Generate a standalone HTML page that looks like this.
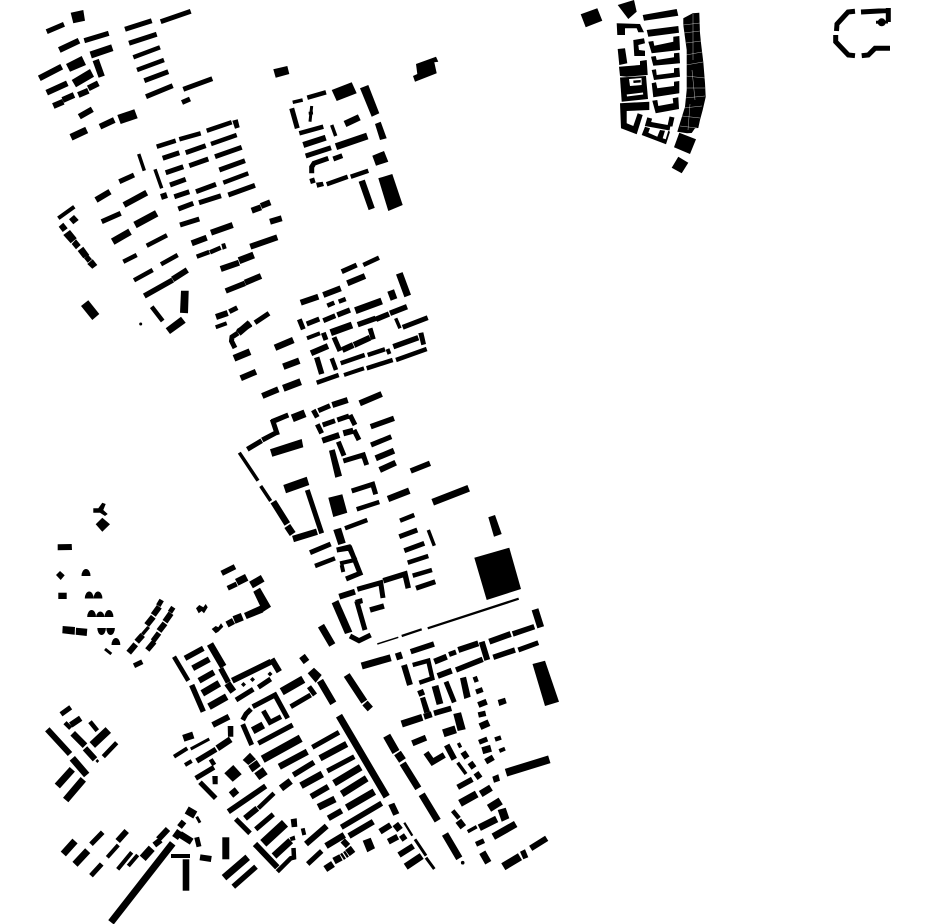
<!DOCTYPE html>
<html><head><meta charset="utf-8"><style>html,body{margin:0;padding:0;background:#fff}svg{display:block}</style></head>
<body>
<svg width="930" height="924" viewBox="0 0 930 924" xmlns="http://www.w3.org/2000/svg">
<rect width="930" height="924" fill="#fff"/>
<g fill="none" stroke="#000" stroke-linejoin="miter">
<path stroke-width="1.5" d="M377.3 644L398.3 637.3"/>
<path stroke-width="2.3" d="M427.7 628.3L518.7 598.7M401.7 636L421.7 629.3M404.3 822.7L412.3 835.7"/>
<path stroke-width="3" d="M190.7 749L209.3 739M105 649L111.3 654M415 839.3L426 855.7M426 857.7L434.3 869M196.7 816.7L200 822.7M311.7 106L310 121.7M308.7 113.3L313 113M876 22.3L888 22"/>
<path stroke-width="3.5" d="M138.7 154L144.3 170.7M155 169.3L161.7 188.3M331.7 125L335.7 136M292.7 102.3L302.7 100M395.7 318.3L400 328.3M239.3 452.7L258 480.7M260.7 486L270.7 501M428.3 530L434.3 545.7M457.7 762.7L466 774M467.7 831.7L476.7 826.7"/>
<path stroke-width="4" d="M58.3 218.3L74.3 206.7M215.7 327.3L226.7 323.3M307 338.3L320 333.3M344 375L364 368.3M340 563.3L355 560M341.7 565L343.3 572M174 756.7L187.3 748.3M185 765L191.7 761M302.7 828.3L304.3 835M107.3 857.3L118.3 845M117.7 869.3L131.7 852.3M128.3 866L137.7 855M171 856L190 856M499.3 751L505 748.7M387.5 349L389.5 354"/>
<path stroke-width="4.5" d="M156.7 146.7L175.7 140.7M179.3 139.3L200.7 133.3M206.7 130.7L231.7 122.3M211 144L236.7 135M133.3 57.3L160 47.3M137 70L164 60M223.3 182.7L248.3 173.3M146.7 245.7L167 235.3M196.7 256.7L209.3 252M210 252.3L220.7 247.7M123.3 261.7L136.7 255M161 264.3L177.7 255M134 280.3L152.7 270M151.7 306.7L162.7 321M363.3 265L379 257.7M327.3 305.7L334.3 302.7M338.7 301.7L345.7 299M340.7 363.3L364.7 355M367.7 355L385 349.3M366.7 368.3L392.7 360M316.7 382.7L338.7 375M331.7 358.3L336 370M396 360L426.7 349M299.3 133.3L323.3 126.7M307.3 97.7L326 92.3M326.7 184.3L347.7 176.7M350.7 176.7L368.3 170.7M356.7 509.3L379.3 502M345 528.3L367.3 520M400 520.7L414.3 515M407.7 562.7L428.3 556M412.7 575.7L432 570M315 566L335 558.3M412.7 665L428.3 660.7L432.3 678.3L419.3 682.7M174 656.7L188.3 680.7M474.7 676.7L476.7 682M495 739.5L501 737.5M452.7 810.7L459 818.3M210.7 759.3L214.3 765M258.3 808.3L274 793.3M277.3 871.7L290.7 858.3L294 857.5L293.5 848M65 722.7L70.7 728.3M90 721.7L97.3 730.7M103.3 756.7L116.7 742.7"/>
<path stroke-width="5" d="M46.7 31.7L64 24.3M84.3 40.7L108.7 33.3M125 29.3L151.7 20.7M160.7 21.7L190.7 11.3M129 43.3L156.7 34.3M144.3 80.7L168.3 71.7M146 96.7L172.7 85.7M183.3 89.3L212.3 78.7M182 102.5L190 99M162.7 158.3L179.3 152.7M185.7 152.7L205.7 145.7M215 156.7L241.7 147.3M189.3 165.7L208.3 159M165.7 172.7L183.3 166.7M219.3 170L245 160.7M170 185L185.7 179.3M196 191.7L216 184.3M228.3 195L255 185.3M174.3 196.7L189.3 191.7M178.3 209L193.3 203.3M199 202.7L221 195.7M101.7 221.7L120.7 213.3M180 225L199.3 219M119.3 181.7L134 175M229.3 311.7L237.3 307.7M255 322.7L269 313.3M341.7 271.7L356.7 265M299.3 319.3L303.3 329.3M306.7 324L319.3 319M323.3 320.7L335.3 315.7M402.7 327.3L427.7 317.7M323.3 332.7L326 340M334 337.3L340 351M370 328.3L373.3 339.3M238 333L232 337L231.5 341L235 348M291.7 108.3L297.3 128.3M305.7 156L331 147.7M333.3 159L342.3 155.7M328.3 158.3L314 163.3L311.7 167L311.7 173.3M311.7 178.3L313.3 183.3M313.3 410L317.3 417.3M318.3 410.7L330 405.7M271.7 421.7L288.3 415M288.3 415L273 421.5L277.5 435M262.3 440L275 433.3M247.3 449.3L261.7 440.7M307.3 490L321.7 533.3M317.3 424.3L321.7 433.3M322.7 425L335 420.7M337.3 420L349 416M350 415L355 425M354 430L359 440M338.3 441.7L344 455.7M343.3 461L363.3 455L366.7 465M351.7 491L372.7 484.3L375.7 494.3M371 445L391.3 436.7M399.3 536.7L417.3 530M404.3 550.7L424.3 543.3M416 588.3L435.3 581.7M310 552.7L330.7 544M336.7 550L349 547L355 560M336.7 550L350 548L360 573.3L346 579M356.7 601L365 630M350 636L359 640.7L370.7 635M357.3 589.3L380.7 582.7L383 598M446 681.7L454.3 702.3M518.3 650L538.3 642.7M476 692L482.7 689.5M479 742.3L487.3 739M449 654.5L456 652M458 746L461 744.5M476 844.3L484 840.7M61 714.3L70.7 707.3M91 844.3L102.7 832.3M91 875.7L101.7 864M158.3 605.7L161.7 600M170 612.3L173.3 607.3M134 665.7L142.3 661.7M227.7 588.3L236.7 584M258.3 687.3L270.7 679M236 700L253.3 689.3M290.7 706.7L310.7 695M309 686.7L315 695M252.7 706.7L275 695L287.7 718.3M242.7 720L246 714L251 709M263.3 710.7L270 722.3L281 716.7M242.7 724.3L251.7 745M258.3 743.3L292.7 725M312.3 747.3L339 732.3M327.3 771L354.3 756.7M195.7 778.3L214 767.3M200 782.3L215.7 798.3M235.7 819L250 833.3M255.7 829.3L273.3 814.3M307.7 864L321.7 851M196.7 837.3L199 846.7M855 11.3L848 12L837 24L836.5 31M835.7 35L835.7 41.7L848.3 55L855 55.7M861 12L888 10.5M888.3 8L888.3 22M861.7 55.7L868.3 55L875 48.3L890 48.3M670 126L672 117M649.7 118L648 124L670 128"/>
<path stroke-width="5.5" d="M185 658.3L203.3 648.3M144.3 296L172.7 280M225.7 291L245 283.3M191.7 685L203.3 711.7M220.7 668.3L228.3 682.3M196.7 761L216 749.3M293.3 775L314 762.3M228.3 811.7L265.7 786M233.3 886.7L256 866.7M341.3 827.3L381.7 803.3M221.7 573.3L235 566.7M153 641L159 633M147.3 650L154.3 641.7M357.7 324.7L375.7 318.3M376 319.3L389 314M390 313.3L407 306.7M337.3 315L350 310M393.3 346.7L418.3 337.7M316.7 357.3L321.7 374M370.7 426.7L394 418.3M370 610L384 606M383.3 580.7L405 574L408.3 588.3M410.7 651.7L434 644M493.3 657.3L515 650M456 670L482.7 659.3M512.7 634L534.3 626.7M410.7 471L430 463.3M434 713.3L451.3 708.3M478.3 715L485.7 713.3M457.7 787.3L472.3 779.3"/>
<path stroke-width="6" d="M59.3 50L79 40.7M39.3 78.3L61.7 66.7M46.7 92.7L67.3 83.3M78.3 95L88.3 90.7M88.3 88.3L98.3 83.3M62.7 100L74 95M53.3 106L63.3 101.7M79.3 116.7L92.3 109.3M100 126.7L114.3 120M96 200L110 191.7M124 205L146.7 192.7M161 197L167 195M191.7 243.3L206.7 237.7M211 232.7L232.7 225M251.7 210.7L261 207.3M261 206L270.3 202.3M270 221.7L281.7 218.3M250.3 246.7L277.3 237.3M172.7 279.3L187.3 270M220.7 269L239 262.7M245 282.7L261 276M216 317L227.7 313M238.3 331.7L250.7 324M347.3 283.3L365 276M300.7 302.7L318.3 296.7M323.3 295L340.7 288.3M311 353.3L328 346M342.3 350L353.3 345M354 345L370 337.7M240.7 378.3L256 371.7M262.3 396L278.3 389.3M303.3 145L325.7 137.7M359.7 403.3L381.7 394M332.3 405L347.7 400M375.7 458.3L394 450.7M379.7 470L395.7 462.7M322.3 440.7L339.3 435M343.3 433.3L353.3 430.7M339.3 596.7L355 591.7M136.7 641.7L142.7 635M128.7 652.7L135.7 644.3M146.7 625L153.3 616.7M153.3 615L159.3 606.7M159 631L165 623.3M165 621.7L171 613.3M192.7 668.3L209.3 659.3M199 680.7L214 672.3M212.7 725L229 716.7M232.3 680.7L271 661.7M271.7 659L279.3 671.7M437.7 676L451.7 670.7M481.7 641.7L487.3 660M489.3 641.7L510.7 634M458.3 650L478.3 643.3M434.3 661.7L446.7 656.7M478.3 705L486.7 701.7M485.7 761.7L493.3 757.3M412.3 743.3L426 737.7M426 752.7L432.5 762L444.3 755M446.7 745L454.3 759.3M463 752L467 758M470 762.5L474 768M476 772.7L480 778.3M404 665L410 685M418.3 694L424 691.7M424 716.7L431.7 714.3M530.7 848.3L546.7 838.3M311 796.7L328.3 786.7M245 818.3L257.3 808.3M255 844L277.3 867.3M306 844L326.7 826M328.3 818.3L341.7 810.7M349 836L373.3 821.7M380 831.7L390.7 825M388.3 841.7L397.7 836.7M399 855L413.3 846M342.7 840.5L348 846M401.5 835L405 840M47.3 729.3L70 754M70.7 725L80.7 718.3M85 748.3L95 759.3M154.3 845L160.7 840M158.3 839.3L168 829M117.7 841L126.7 831M179.5 827L184 821.5M200 857.3L211.3 859"/>
<path stroke-width="6.5" d="M95.7 60L101.7 76.7M283.3 366.7L299.3 360.7M275 347.7L293.3 340M345 124L359.3 117.3M361.7 180.7L371.7 209M273.3 501.7L287.3 524M388 499L409.3 490.7M326 846L344.3 835M279.3 766.7L307.3 751.7M320 758.3L346.7 744M72.7 733.3L85 745.7M217.3 748.3L230.7 739.3M227 624.5L233.5 621M293 539L317 531.7"/>
<path stroke-width="7" d="M90.7 55L112.3 47.7M71 137.3L86.7 130M135 225L156.7 213.3M112.7 241.7L130 231.7M239 260.7L253.7 255M238.3 333L250 323M234 358.3L250 351.7M283.3 388.3L300.7 381.7M330.7 332.7L352 325M355.3 310.7L381.7 301M399.3 273.3L407.7 296M336 146.7L367.3 136M320 680.7L333.3 703.3M287.3 526L292.7 534M432.7 502.3L468.7 488.3M321 625.7L332.3 645M361.7 666L390.7 657.7M396 657L402 655M535 609.3L540.7 627.3M482.3 750.7L491 748.3M480 726.7L489 722.7M402.7 763.3L418.3 788.3M421.7 794.3L437.7 820.7M339 715.7L386.7 796.7M401.7 724L422.3 717.3M458.3 820.7L463.3 827.3M479.3 827.7L496.7 819M493.3 836.7L515.7 824M480.7 794L491 787.7M445 834L459.3 858.3M482.3 852.3L488.3 862.7M210 644L223.3 666.7M227.3 683.3L233.3 691.7M202.3 693.3L219.3 683.3M209 706.7L226.7 696.7M183.3 738.3L193.3 735M301 785.7L322.3 774M334 783.3L360.7 767.3M341.7 794L366.7 778.3M346.7 807.7L374.3 791.7M318.3 807.3L335 799M281 788.3L290.7 781M274 856L290.7 840.7M224 877.7L247.7 857.3M111 922.3L172.7 843.3M72.3 758.3L86.7 775M57.3 786L72.3 769.3M65.7 800L83.3 779.3M63.3 854L75 841M75 864.3L87.7 850.7M348 848L352.5 854M175 838L180 831M180 834.3L191.7 841.7M231 795L237 790M365 703L370.3 709M302 656L306.5 662M395.3 824L400 830M405.7 866.7L421.7 856M325.3 869L333 864M334 861L341 857.3M342 857L344 855.7M345 855L347 853.7M346.7 675L364.3 701.7"/>
<path stroke-width="7.5" d="M236.7 582.3L246.7 577.3M251 585L262.7 578.3M252.7 730.7L263.3 725M460 803.3L476.7 794"/>
<path stroke-width="8" d="M292.3 418.3L305 413.3M281.7 691.7L303.3 679.3M262.7 759.3L300.7 738.3M92.3 745L108.3 730M386.7 735.7L396 752M397.5 753L402.5 760.5M443.3 733.3L455.7 729.3M506 772.7L549.3 759.3M489 808.3L500.7 801M503.3 866.7L520 856.7M142.7 858.3L151.7 848.3M234 620L242.3 616.7M186.7 810L195.3 815"/>
<path stroke-width="9" d="M263.3 843.3L285 823.3"/>
</g>
<g fill="#000">
<polygon points="70.7,12.7 83.3,10 85,20.7 73.3,23.3"/>
<polygon points="66,64 81.7,56 86,65 70,71.7"/>
<polygon points="71.7,80 90,69 94,76.7 76,87.3"/>
<polygon points="117.3,115 134.3,109.3 137.7,118.3 120.7,124"/>
<polygon points="232.3,120.7 237.7,119.3 239.7,127.3 235,128.7"/>
<polygon points="273.3,69.3 287.3,66 289.3,74 275.7,77.7"/>
<polygon points="69,219.3 74,215 78.7,220 73.3,224.3"/>
<polygon points="58.7,226.7 63.3,222.7 67.7,228.3 62.7,232"/>
<polygon points="63.3,235 70,230 76.7,238.3 70.7,243.3"/>
<polygon points="71.7,244 76,239.3 80.7,245 76,249.3"/>
<polygon points="77.7,251 83.3,246.7 89.3,255 83.3,258.3"/>
<polygon points="84,258.3 88.3,255 92,259.3 87.7,262.7"/>
<polygon points="87.3,264 92.7,259.3 97.3,265 92.3,268.7"/>
<polygon points="221.3,244 225,243 226.7,248.3 222.7,249.7"/>
<polygon points="181,290.7 188.7,290.7 188,313.3 180,312.7"/>
<polygon points="81,306 88.3,300.3 99.3,314 92.3,320"/>
<circle cx="140.7" cy="324" r="1.5"/>
<polygon points="165.7,328.3 181,316.7 185.7,322.7 170,334"/>
<polygon points="387.3,291.7 394,289.3 397.3,298.3 390.7,300.7"/>
<polygon points="418.3,333.3 423.3,332.3 426,344 421.3,345.3"/>
<polygon points="331.7,90 351.7,82.3 356.7,93.3 336.7,101"/>
<polygon points="360,88.3 368.3,85 379.3,113.3 371.7,116.7"/>
<polygon points="375,124 380.7,121.7 386.7,138.3 380,140"/>
<polygon points="372.3,155.7 384,151 388.3,161.7 376,165.7"/>
<polygon points="316,182.7 322.7,181.7 324,186 317.3,187.7"/>
<polygon points="378.3,178.3 392.3,174 402.7,205 388.3,211"/>
<polygon points="416,64 436,56.7 438.3,61.7 434.3,62.3 436.7,73.3 415,81.7 413,76 417.3,74"/>
<polygon points="580.7,14.3 597.3,8.3 602.3,20.7 585.7,27.3"/>
<polygon points="617.7,5 634,0 636.7,11.7 628.3,19"/>
<polygon points="642.7,15 676.7,9 678.3,15.7 644,20.7"/>
<polygon points="616.7,23.3 640,24 644,32.3 638.3,32.3 636.7,28.3 625,28.3 625,35 617.3,35"/>
<polygon points="646.7,30 678.3,26 679,32.7 648.3,36.7"/>
<polygon points="633.3,40 644,38.3 645,43.3 638.3,45 639,50 645,50.7 645,56 634.3,56"/>
<polygon points="648.3,41.7 653.3,41 654.3,45.7 673.3,41.7 673.3,36.7 679.3,36 680,50 651.7,53.3"/>
<polygon points="651,56.7 655.7,56 656.7,60 674,57.3 674,53.3 679.3,52.7 680,63.3 653.3,65.7"/>
<polygon points="651.7,70 656,69.3 656.7,75 674,72.7 674,68.3 679.3,67.7 680,76.7 654,80"/>
<polygon points="651.7,83.3 656,82.3 657.3,88.3 674,86 674,81.7 679.3,81 679.3,93.3 653.3,97.3"/>
<polygon points="652.3,100.7 657.3,100 658.3,106 673.3,103.3 672.7,98.3 678.3,97.3 679,109 655.7,113.3"/>
<polygon points="617.7,49 625,48.3 627.3,63.3 619.3,65"/>
<polygon points="619,66.7 640,65 640,61 646.7,60 647.7,75 626.7,76.7 620,76"/>
<polygon points="620,77.5 646,76 648,99 621.7,101.7"/>
<polygon fill="#fff" points="629,79 641.5,78 641.7,85 630,86"/>
<polygon points="633.3,80.5 640.7,80 640.7,82.5 633.5,83"/>
<polygon fill="#fff" points="626.7,94.5 643,92.5 643.2,94.5 627,96.5"/>
<polygon points="620,103.3 649.3,101.7 649.3,110 626.7,111 626.7,123.3 633.3,126 637.7,113.3 642.7,115 636.7,134.3 621,128.3"/>
<polygon points="641.7,135 645,126.7 650,128.3 648.3,132.7 657.3,136.7 660,130 665,130.7 662.7,138.3 665.7,139.3 668.3,130.7 670,131.7 666,144.3"/>
<polygon points="692.7,13.3 699.3,12.7 700,33 701,43 703.3,62 705,83 705.7,97 702.7,110 700,120 698.3,128 695,128.3 691.7,133 687,133.3 677.3,131.7 685,106.7 686.7,90 686.7,78 686.7,50 683.3,25 683.3,18.3"/>
<polygon points="679.3,132.7 696,139.3 690,154 674,147.3"/>
<polygon points="678.3,156.7 688.3,162.7 681.7,173.3 671.7,167.7"/>
<circle cx="881.7" cy="22.3" r="4"/>
<polygon points="270,449.3 301.7,439 303.3,447.3 272.3,456.7"/>
<polygon points="283.3,485 306.7,476.7 309.3,485 286,493.3"/>
<polygon points="328.3,497.7 342.3,494.3 347.3,512.7 333.3,517"/>
<polygon points="329,450.7 334.7,449.3 342,475.7 335.3,477.7"/>
<polygon points="333.3,530 341,527.7 345.7,542.7 338.3,545"/>
<polygon points="474.3,557.7 509.3,547.7 521,589 486.7,600"/>
<polygon points="488.3,517.3 495,515 501.7,534 494,536.7"/>
<polygon points="331.7,603.3 338.3,600 352.3,631.7 345,634"/>
<polygon points="355,600 362,598 363,603 357,605"/>
<polygon points="532.5,664 545,660.7 559,701.7 545,706"/>
<polygon points="497.7,700 505,697.7 506.7,703.3 499.3,706"/>
<polygon points="492.3,776.7 498.3,774.3 500,780.7 494,782.7"/>
<polygon points="420,698.3 425,696.7 430,711.7 424.3,713.3"/>
<polygon points="431.7,686.7 438.3,685 443.3,703.3 436.7,705"/>
<polygon points="460,678.3 466,676.7 470.7,696.7 464.3,699"/>
<polygon points="453.3,714 461,712.3 465.7,729.3 457.7,731"/>
<polygon points="497.7,810 505.7,807.7 509.3,818.3 501.7,821.7"/>
<polygon points="520,851.7 525,849.3 528.3,857.3 523.3,859.3"/>
<polygon points="388.3,805 394.3,802.7 399.3,813.3 393.3,815.7"/>
<polygon points="362.7,840.7 370.7,837.7 375,848.3 367.3,852.3"/>
<circle cx="462.7" cy="862.7" r="1.8"/>
<polygon points="307.7,673.3 314,667.7 321.7,675 315.7,682.7"/>
<polygon points="227.7,726 233.3,726 233.3,736.7 228,736.7"/>
<polygon points="212.3,776 217.7,776 217.7,784.3 212.7,784.3"/>
<polygon points="224.3,773.3 233.3,765 241.7,774.3 232.7,781.7"/>
<polygon points="242.7,760 250,752.7 256,759.3 248.3,765"/>
<polygon points="248.3,766 256.7,760 260.7,766 252.3,772.3"/>
<polygon points="254.3,773.3 262.7,767.3 267.7,774.3 259.3,780"/>
<polygon points="241,684.5 243.5,682 246,684.5 243.5,687"/>
<polygon points="250,679.5 252.5,677 255,679.5 252.5,682"/>
<polygon points="267.5,674 270,671.5 272.5,674 270,676.5"/>
<polygon points="290.7,819.3 296.7,818.3 297.3,826.7 291.7,827.3"/>
<polygon points="289.5,837.5 294.5,835.5 295.5,840 291,841"/>
<polygon points="222.3,837.3 229.3,837.3 229.3,859.3 222.3,859.3"/>
<polygon points="182.7,859.3 189.3,859.3 189.3,890.7 182.7,890.7"/>
<polygon points="95.5,761 97.3,759 99.2,761 97.3,763"/>
<polygon points="93.3,508.3 98.3,508.3 102.3,502.7 105.7,504 103.3,510 107.7,514 105,516 100,512.7 93.3,512.7"/>
<polygon points="95.7,524.3 102.3,517.7 110,524.3 102.3,531.7"/>
<polygon points="57.7,544.3 71.7,544 72,550 57.7,550.3"/>
<polygon points="56,575 60,571 64.7,575.3 60.7,580"/>
<path d="M81.5 576A4.5 7 0 0 1 90.5 576ZM84.8 598.5A4.4 7 0 0 1 93.6 598.5ZM93.6 598.5A4.4 7 0 0 1 102.4 598.5ZM87.2 617A4.4 7 0 0 1 96 617ZM96 617A4.4 7 0 0 1 104.6 617ZM104.6 617A4.4 7 0 0 1 113.4 617ZM97.3 628A4.3 7 0 0 0 105.9 628ZM106.3 628A4.3 7 0 0 0 114.9 628ZM111.5 645A4.4 7 0 0 1 120.3 645Z"/>
<polygon points="58.3,592.7 66.7,592.7 66.7,599 58.3,599"/>
<polygon points="62.7,626 75,627 74.7,634.7 62.3,633.3"/>
<polygon points="76,627.7 87.3,628.7 86.7,636 75.7,634.7"/>
<polygon points="196,608.3 199.3,605 203.3,607.3 205.7,604 207.7,607.3 204,613.3 201.7,611 198.7,613.3"/>
<polygon points="211.7,629 215.7,626 218.3,627.3 221,623.3 223.3,626.7 218.3,631.7 215.7,633.3"/>
<polygon points="253.3,591.7 260,587.7 271,606.7 263.3,611.7 263,612.5 246.7,619 244,613 260,605.7"/>
<polygon points="141,633.3 147.3,626 150,628 143.7,635.5"/>
</g>
<g fill="none" stroke="#fff" stroke-width=".5" opacity=".7">
<path d="M683 25L700 23M684 33L700 31M686 43L701 41M686 55L702 52M686 65L703 62M686 76L705 78M686 88L705 88M685 98L705 96M684 108L702 106M682 116L700 118M680 126L697 128M693 14L693 60M692 70L695 100M690 104L688 130"/>
</g>
</svg>
</body></html>
